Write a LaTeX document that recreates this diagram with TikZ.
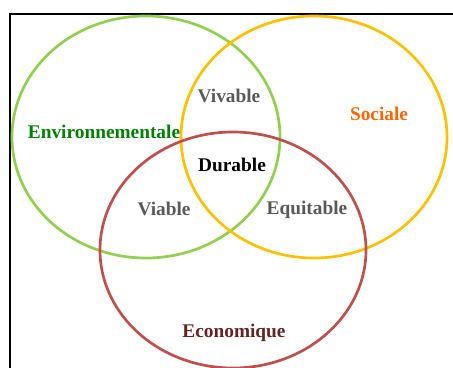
\documentclass[tikz,border=0pt]{standalone}
\usepackage{fontspec}
\setmainfont{Liberation Serif}
\usepackage{tikz}

\definecolor{envgreen}{RGB}{146,208,80}
\definecolor{socyellow}{RGB}{255,192,0}
\definecolor{ecored}{RGB}{192,80,77}
\definecolor{envtext}{RGB}{0,128,0}
\definecolor{soctext}{RGB}{255,102,0}
\definecolor{ecotext}{RGB}{99,37,35}
\definecolor{midgray}{RGB}{89,89,89}

\tikzset{
  ring/.style={line width=2.3pt},
  label/.style={font=\bfseries\fontsize{16.5}{19}\selectfont, inner sep=0pt}
}

\begin{document}
\begin{tikzpicture}[x=0.03cm,y=-0.03cm]
\useasboundingbox (0,0) rectangle (453,367);
\draw [line width=2.2pt] (10,380) -- (10,14) -- (470,14);
\draw [ring,envgreen] (146,137) ellipse [x radius=134, y radius=121];
\draw [ring,socyellow] (314,137) ellipse [x radius=133, y radius=121];
\draw [ring,ecored] (233,250) ellipse [x radius=133, y radius=118];
\node [label,envtext] (env) at (104,132) {Environnementale};
\node [label,soctext] (soc) at (379,114) {Sociale};
\node [label,ecotext] (eco) at (234,333) {Economique};
\node [label,midgray] (vivable) at (229,96) {Vivable};
\node [label,midgray] (viable) at (164,209) {Viable};
\node [label,midgray] (equitable) at (307,210) {Equitable};
\node [label,black] (durable) at (232,165) {Durable};
\end{tikzpicture}
\end{document}
